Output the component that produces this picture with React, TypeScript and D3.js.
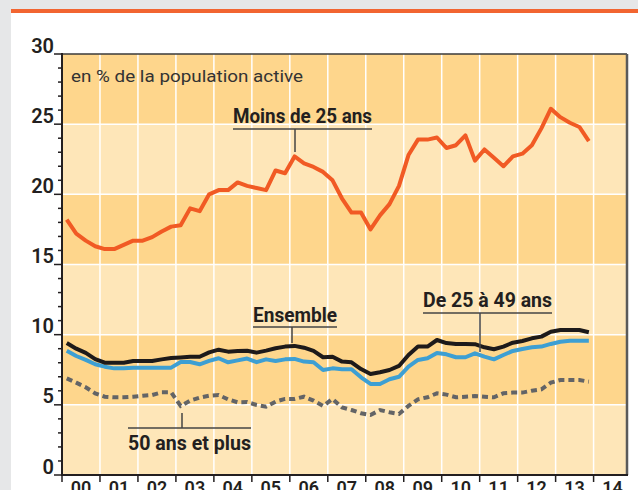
import React from "react";
import * as d3 from "d3";

const yearLabels = ["00","01","02","03","04","05","06","07","08","09","10","11","12","13","14"];
const yTicks = [0, 5, 10, 15, 20, 25, 30];

// Quarterly unemployment rates, 2000 Q1 -> 2013 Q4
const moins25 = [
  18.2, 17.2, 16.7, 16.3, 16.1, 16.1, 16.4, 16.7, 16.7, 16.95,
  17.35, 17.7, 17.8, 19.0, 18.8, 20.0, 20.3, 20.3, 20.85, 20.6,
  20.45, 20.3, 21.7, 21.5, 22.7, 22.2, 21.95, 21.6, 21.0, 19.7,
  18.7, 18.7, 17.5, 18.5, 19.3, 20.6, 22.8, 23.9, 23.9, 24.05,
  23.3, 23.5, 24.2, 22.4, 23.2, 22.6, 22.0, 22.7, 22.9, 23.5,
  24.7, 26.1, 25.5, 25.1, 24.8, 23.8
];
const ensemble = [
  9.4, 9.0, 8.7, 8.26, 8.0, 8.0, 8.0, 8.12, 8.12, 8.12,
  8.24, 8.33, 8.38, 8.43, 8.43, 8.74, 8.93, 8.79, 8.83, 8.85,
  8.72, 8.86, 9.03, 9.15, 9.2, 9.07, 8.84, 8.39, 8.43, 8.08,
  8.03, 7.55, 7.2, 7.32, 7.48, 7.77, 8.55, 9.15, 9.15, 9.62,
  9.4, 9.34, 9.34, 9.32, 9.1, 8.96, 9.15, 9.43, 9.55, 9.74,
  9.86, 10.21, 10.33, 10.33, 10.33, 10.17
];
const de25a49 = [
  8.86, 8.48, 8.2, 7.89, 7.72, 7.6, 7.6, 7.65, 7.65, 7.65,
  7.65, 7.65, 8.05, 8.05, 7.89, 8.13, 8.32, 8.03, 8.17, 8.3,
  8.04, 8.24, 8.13, 8.24, 8.27, 8.08, 8.03, 7.48, 7.6, 7.53,
  7.53, 6.96, 6.49, 6.49, 6.82, 7.0, 7.72, 8.2, 8.32, 8.7,
  8.6, 8.39, 8.39, 8.67, 8.43, 8.24, 8.55, 8.84, 8.98, 9.1,
  9.15, 9.34, 9.5, 9.57, 9.57, 9.57
];
const plus50 = [
  6.89, 6.58, 6.25, 5.82, 5.58, 5.54, 5.54, 5.58, 5.65, 5.7,
  5.89, 5.89, 4.92, 5.3, 5.51, 5.65, 5.7, 5.39, 5.18, 5.2,
  4.99, 4.87, 5.23, 5.42, 5.42, 5.58, 5.3, 4.92, 5.42, 4.82,
  4.63, 4.4, 4.28, 4.63, 4.47, 4.35, 4.92, 5.39, 5.54, 5.82,
  5.73, 5.54, 5.58, 5.63, 5.58, 5.54, 5.82, 5.87, 5.87, 6.01,
  6.1, 6.58, 6.77, 6.77, 6.77, 6.65
];

const W = 638, H = 490;
const L = 62, R = 627, T = 54, B = 475;

export default function App() {
  const x = d3.scaleLinear().domain([0, 14.88]).range([L, R]);
  const y = d3.scaleLinear().domain([0, 30]).range([B, T]);
  const line = d3.line<number>()
    .x((_, i) => x(i * 0.25 + 0.125))
    .y((d) => y(d))
    .curve(d3.curveLinear);

  const bands = [0, 5, 10, 15, 20, 25];
  const minor = d3.range(0, 31).filter((v) => v % 5 !== 0);
  const years = d3.range(0, 15);
  const font = "Roboto, 'DejaVu Sans', sans-serif";
  const ink = "#231f20";

  return (
    <svg width={W} height={H} style={{ position: "absolute", left: 0, top: 0, display: "block" }}
      fontFamily={font}>
      <rect x={0} y={0} width={W} height={H} fill="#e6e7e8" />
      <rect x={11} y={9} width={W - 11} height={H - 9} fill="#ffffff" />
      <rect x={11} y={9} width={W - 11} height={4} fill="#f26531" />

      {bands.map((b, i) => (
        <rect key={b} x={L} y={y(b + 5)} width={R - L} height={y(b) - y(b + 5)}
          fill={i % 2 === 0 ? "#fee6b8" : "#fed68c"} />
      ))}
      {[5, 10, 15, 20, 25].map((v) => (
        <line key={v} x1={L} x2={R} y1={y(v)} y2={y(v)} stroke="#ffffff" strokeWidth={1.5} />
      ))}
      {years.slice(1).map((k) => (
        <line key={k} x1={x(k)} x2={x(k)} y1={T} y2={B} stroke="#ffffff" strokeWidth={1.5} />
      ))}

      <path d={line(plus50) || ""} fill="none" stroke="#636466" strokeWidth={4}
        strokeDasharray="6 4" />
      <path d={line(de25a49) || ""} fill="none" stroke="#3d9fd3" strokeWidth={4}
        strokeLinejoin="round" />
      <path d={line(ensemble) || ""} fill="none" stroke="#1d1a1a" strokeWidth={4}
        strokeLinejoin="round" />
      <path d={line(moins25) || ""} fill="none" stroke="#f15a24" strokeWidth={4}
        strokeLinejoin="round" />

      {/* frame */}
      <line x1={L} x2={R} y1={T} y2={T} stroke="#3a3a3a" strokeWidth={1.5} />
      <line x1={R} x2={R} y1={T} y2={B} stroke="#5a5a5a" strokeWidth={2.5} />
      <line x1={L} x2={L} y1={T - 1} y2={B + 1} stroke={ink} strokeWidth={2} />
      <line x1={L - 1} x2={R + 1} y1={B} y2={B} stroke={ink} strokeWidth={2} />

      {/* y ticks */}
      {minor.map((v) => (
        <line key={v} x1={L - 4} x2={L} y1={y(v)} y2={y(v)} stroke={ink} strokeWidth={1.5} />
      ))}
      {yTicks.map((v) => (
        <g key={v}>
          <line x1={L - 8} x2={L} y1={y(v)} y2={y(v)} stroke={ink} strokeWidth={1.5} />
          <text x={54} y={y(v) - 1.5} textAnchor="end" fontSize={20} fontWeight={600}
            fill={ink}>{v}</text>
        </g>
      ))}

      {/* x ticks */}
      {years.map((k) => (
        <line key={k} x1={x(k)} x2={x(k)} y1={B} y2={B + 7} stroke={ink} strokeWidth={1.5} />
      ))}
      {yearLabels.map((lab, k) => (
        <text key={lab} x={x(k + 0.5)} y={494} textAnchor="middle" fontSize={18}
          fontWeight={600} fill={ink}>{lab}</text>
      ))}

      {/* annotations */}
      <text x={71} y={82} fontSize={17} fill="#333333" textLength={232}
        lengthAdjust="spacingAndGlyphs">en % de la population active</text>

      <text x={233} y={123} fontSize={20} fontWeight={700} fill={ink} textLength={139}
        lengthAdjust="spacingAndGlyphs">Moins de 25 ans</text>
      <line x1={233} x2={372} y1={129} y2={129} stroke="#444" strokeWidth={1.5} />
      <line x1={295} x2={295} y1={129} y2={152} stroke="#444" strokeWidth={1.5} />

      <text x={253} y={322} fontSize={20} fontWeight={700} fill={ink} textLength={84}
        lengthAdjust="spacingAndGlyphs">Ensemble</text>
      <line x1={253} x2={337} y1={327} y2={327} stroke="#444" strokeWidth={1.5} />
      <line x1={292} x2={292} y1={327} y2={343} stroke="#444" strokeWidth={1.5} />

      <text x={423} y={307} fontSize={20} fontWeight={700} fill={ink} textLength={129}
        lengthAdjust="spacingAndGlyphs">De 25 à 49 ans</text>
      <line x1={423} x2={552} y1={313} y2={313} stroke="#444" strokeWidth={1.5} />
      <line x1={480} x2={480} y1={313} y2={352} stroke="#444" strokeWidth={1.5} />

      <text x={128} y={450} fontSize={20} fontWeight={700} fill={ink} textLength={123}
        lengthAdjust="spacingAndGlyphs">50 ans et plus</text>
      <line x1={128} x2={251} y1={428} y2={428} stroke="#444" strokeWidth={1.5} />
      <line x1={182} x2={182} y1={428} y2={413} stroke="#444" strokeWidth={1.5} />
    </svg>
  );
}
